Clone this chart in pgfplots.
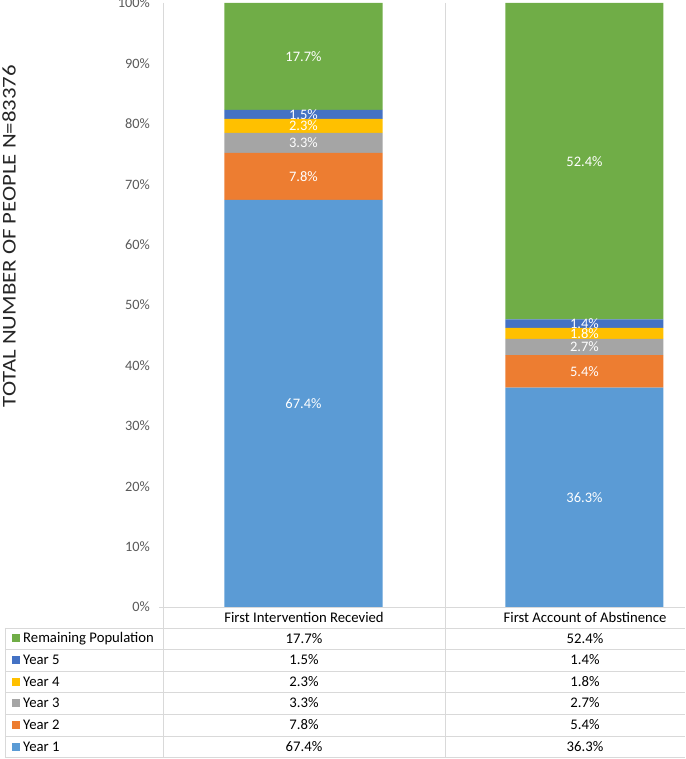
\documentclass[border=0pt]{standalone}
\usepackage{pgfplots}
\pgfplotsset{compat=1.18}
\usepackage{fontspec}
\setmainfont{Carlito}
\definecolor{yone}{HTML}{5B9BD5}
\definecolor{ytwo}{HTML}{ED7D31}
\definecolor{ythree}{HTML}{A5A5A5}
\definecolor{yfour}{HTML}{FFC000}
\definecolor{yfive}{HTML}{4472C4}
\definecolor{yrem}{HTML}{70AD47}
\definecolor{gridc}{HTML}{D9D9D9}
\definecolor{tickc}{HTML}{595959}
\newcommand\tf{\fontsize{14.7}{17}\selectfont}
\begin{document}
\begin{tikzpicture}[x=1pt,y=1pt]
\path[use as bounding box] (-163,-152) rectangle (522,607);
% grid / table lines
\draw[gridc, line width=0.9pt] (0,604) -- (0,-150);
\draw[gridc, line width=0.9pt] (282,604) -- (282,-150);
\draw[gridc, line width=0.9pt] (-4,0) -- (522,0);
\draw[gridc, line width=0.9pt] (-158,-21) -- (-158,-150);
\foreach \yy in {-21,-42,-64,-85,-107,-129,-150}{
  \draw[gridc, line width=0.9pt] (-158,\yy) -- (522,\yy);
}
\begin{axis}[
  at={(0,0)}, anchor=south west,
  scale only axis, width=522pt, height=604pt,
  xmin=-0.5, xmax=1.3577, ymin=0, ymax=100,
  ybar stacked, bar width=158pt,
  axis line style={draw=none},
  xtick=\empty,
  ytick={0,10,...,100},
  major tick length=0pt,
  /pgf/number format/assume math mode=true,
  yticklabel={\pgfmathprintnumber{\tick}\%},
  yticklabel style={anchor=east, inner sep=0pt, xshift=-13pt,
    font=\fontsize{14.3}{16}\selectfont, text=tickc},
  clip=false,
]
\addplot[fill=yone, draw=none] coordinates {(0,67.4) (1,36.3)};
\addplot[fill=ytwo, draw=none] coordinates {(0,7.8) (1,5.4)};
\addplot[fill=ythree, draw=none] coordinates {(0,3.3) (1,2.7)};
\addplot[fill=yfour, draw=none] coordinates {(0,2.3) (1,1.8)};
\addplot[fill=yfive, draw=none] coordinates {(0,1.5) (1,1.4)};
\addplot[fill=yrem, draw=none] coordinates {(0,17.7) (1,52.4)};
\end{axis}
\begin{axis}[
  at={(0,0)}, anchor=south west,
  scale only axis, width=522pt, height=604pt,
  xmin=-0.5, xmax=1.3577, ymin=0, ymax=100,
  hide axis, clip=false,
]
\addplot[draw=none, mark=none, nodes near coords, point meta=explicit symbolic,
  nodes near coords align={center},
  every node near coord/.append style={text=white, inner sep=0pt,
    font=\fontsize{14.5}{16}\selectfont}]
  coordinates {
  (0,33.7) [67.4\%]
  (0,71.3) [7.8\%]
  (0,76.85) [3.3\%]
  (0,79.65) [2.3\%]
  (0,81.55) [1.5\%]
  (0,91.15) [17.7\%]
  (1,18.15) [36.3\%]
  (1,39.0) [5.4\%]
  (1,43.05) [2.7\%]
  (1,45.3) [1.8\%]
  (1,46.9) [1.4\%]
  (1,73.8) [52.4\%]
  };
\end{axis}
% y label
\node[rotate=90, xscale=1.17, font=\fontsize{19.5}{22}\selectfont, text=black!85] at (-154,371) {TOTAL NUMBER OF PEOPLE N=83376};
% category labels
\node[font=\tf] at (141,-10) {First Intervention Recevied};
\node[font=\tf] at (422,-10) {First Account of Abstinence};
% table rows
\foreach \yc/\col/\lab/\va/\vb in {
  -31.5/yrem/Remaining Population/17.7/52.4,
  -53/yfive/Year 5/1.5/1.4,
  -74.5/yfour/Year 4/2.3/1.8,
  -96/ythree/Year 3/3.3/2.7,
  -118/ytwo/Year 2/7.8/5.4,
  -139.5/yone/Year 1/67.4/36.3}{
  \fill[\col] (-151,\yc-4) rectangle (-143,\yc+4);
  \node[anchor=west, inner sep=0pt, font=\tf] at (-140,\yc) {\lab};
  \node[font=\tf] at (141,\yc) {\va\%};
  \node[font=\tf] at (422,\yc) {\vb\%};
}
\end{tikzpicture}
\end{document}
